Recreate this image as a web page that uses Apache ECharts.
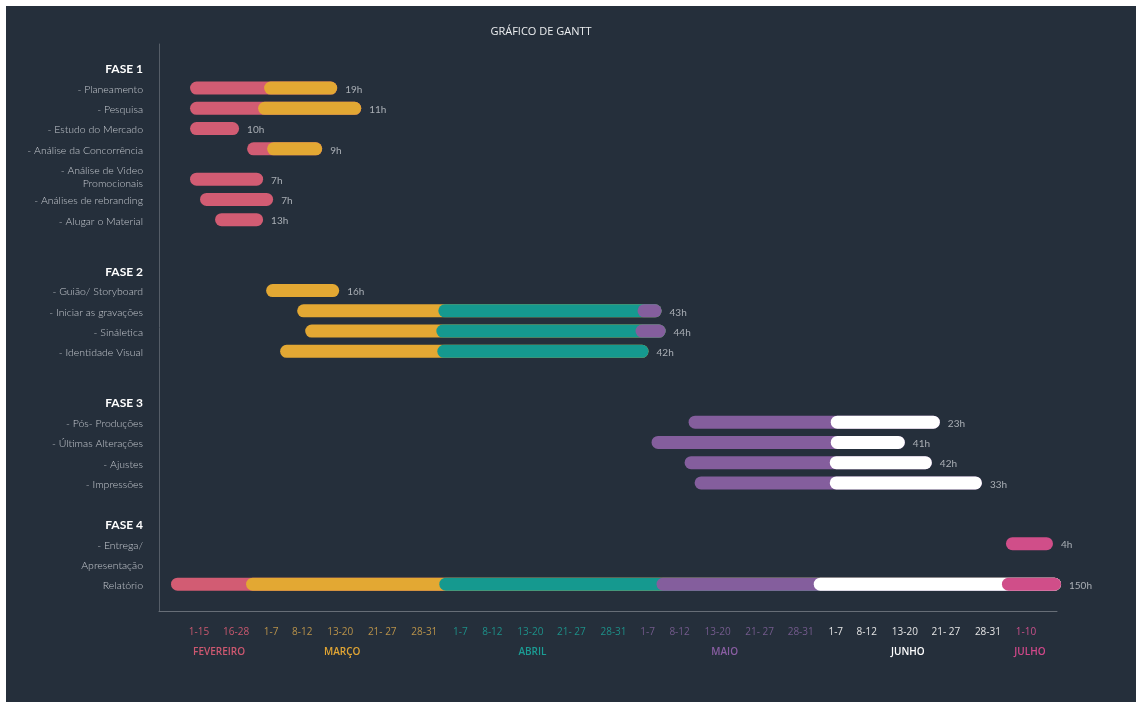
<!DOCTYPE html>
<html>
<head>
<meta charset="utf-8">
<script src="https://cdn.jsdelivr.net/npm/echarts@6/dist/echarts.min.js"></script>
<style>
  html, body { margin: 0; padding: 0; background: #ffffff; width: 1136px; height: 702px; overflow: hidden; }
  #chart { position: absolute; left: 6px; top: 6px; width: 1130px; height: 696px; background: #252f3b; }
</style>
</head>
<body>
<div id="chart"></div>
<script>
// ---- Y axis rows (category slots; blank slots give the spacing between rows) ----
const categories = [
  '', '', 'FASE 1', '', '- Planeamento', '', '- Pesquisa', '', '- Estudo do Mercado', '',
  '- Análise da Concorrência', '', '', '- Análise de Video\nPromocionais', '', '- Análises de rebranding', '',
  '- Alugar o Material', '', '', '', '', 'FASE 2', '', '- Guião/ Storyboard', '', '- Iniciar as gravações', '',
  '- Sináletica', '', '- Identidade Visual', '', '', '', '', 'FASE 3', '', '- Pós- Produções', '',
  '- Últimas Alterações', '', '- Ajustes', '', '- Impressões', '', '', '', 'FASE 4', '', '- Entrega/', '',
  'Apresentação', '', 'Relatório', '', ''
];

// ---- Tasks ----
const tasks = [
  '- Planeamento', '- Pesquisa', '- Estudo do Mercado', '- Análise da Concorrência',
  '- Análise de Video\nPromocionais', '- Análises de rebranding', '- Alugar o Material',
  '- Guião/ Storyboard', '- Iniciar as gravações', '- Sináletica', '- Identidade Visual',
  '- Pós- Produções', '- Últimas Alterações', '- Ajustes', '- Impressões',
  '- Entrega/', 'Relatório'
];
// start of each coloured segment on the timeline
const segStarts = [
  [31, 105], [31, 99], [31], [88, 108], [31], [41], [56],
  [107], [138, 279, 478], [146, 277, 476], [121, 278],
  [529, 671], [492, 671], [525, 670], [535, 670],
  [846], [12, 87, 280, 497, 654, 842]
];
// month of each segment (0 Fev, 1 Mar, 2 Abr, 3 Mai, 4 Jun, 5 Jul)
const segMonths = [
  [0, 1], [0, 1], [0], [0, 1], [0], [0], [0],
  [1], [1, 2, 3], [1, 2, 3], [1, 2],
  [3, 4], [3, 4], [3, 4], [3, 4],
  [5], [0, 1, 2, 3, 4, 5]
];
const taskEnds = [178, 202, 80, 163, 104, 114, 104, 180, 502, 506, 489, 780, 745, 772, 822, 893, 901];
const hoursLabels = ['19h', '11h', '10h', '9h', '7h', '7h', '13h', '16h', '43h', '44h', '42h', '23h', '41h', '42h', '33h', '4h', '150h'];

// ---- X axis (timeline) ----
const tickLabels = ['1-15', '16-28', '1-7', '8-12', '13-20', '21- 27', '28-31', '1-7', '8-12', '13-20', '21- 27', '28-31',
  '1-7', '8-12', '13-20', '21- 27', '28-31', '1-7', '8-12', '13-20', '21- 27', '28-31', '1-10'];
const tickMonth = [0, 0, 1, 1, 1, 1, 1, 2, 2, 2, 2, 2, 3, 3, 3, 3, 3, 4, 4, 4, 4, 4, 5];
const tickPos = [40, 77, 112, 143, 181, 223, 265, 301, 333, 371, 412, 454, 488, 520, 558, 600, 641, 676, 707, 745, 786, 828, 866];
const monthNames = ['FEVEREIRO', 'MARÇO', 'ABRIL', 'MAIO', 'JUNHO', 'JULHO'];
const monthPos = [60, 183, 373, 565, 748, 870];

// ---- Styles ----
const segColors = ['#d25c73', '#e3a833', '#15998f', '#845e9d', '#ffffff', '#d04e89'];
const tickColors = ['#c9586f', '#b8924a', '#1d8f88', '#735a8c', '#e4e4e4', '#c8508a'];
const monthColors = ['#cd5870', '#e2a634', '#1b9c94', '#8a5ea3', '#ffffff', '#d2488a'];
const AXIS_MAX = 897;

const segData = [];
tasks.forEach((t, i) => {
  segStarts[i].forEach((s, j) => {
    segData.push([s, taskEnds[i], t, segMonths[i][j]]);
  });
});
const endData = tasks.map((t, i) => [taskEnds[i], t, hoursLabels[i]]);

const tickRich = {};
tickColors.forEach((c, i) => { tickRich['m' + i] = { color: c, fontSize: 10, fontFamily: 'Open Sans' }; });
const monthRich = {};
monthColors.forEach((c, i) => { monthRich['m' + i] = { color: c, fontSize: 10, fontFamily: 'Open Sans', fontWeight: 600 }; });

const chart = echarts.init(document.getElementById('chart'), null, { renderer: 'canvas' });
chart.setOption({
  animation: false,
  backgroundColor: '#252f3b',
  graphic: [{
    type: 'text', x: 535, y: 26,
    style: { text: 'GRÁFICO DE GANTT', fill: '#eceef0', font: '500 11px "Open Sans"', align: 'center', verticalAlign: 'middle' }
  }],
  grid: { left: 153, top: 38, width: 898, height: 567 },
  xAxis: [{
    type: 'value', min: 0, max: AXIS_MAX, position: 'bottom',
    axisLine: { show: true, lineStyle: { color: '#676e77', width: 1 } },
    axisTick: { show: false }, splitLine: { show: false },
    axisLabel: {
      customValues: tickPos, margin: 16,
      formatter: (v) => { const i = tickPos.indexOf(v); return i < 0 ? '' : '{m' + tickMonth[i] + '|' + tickLabels[i] + '}'; },
      rich: tickRich
    }
  }, {
    type: 'value', min: 0, max: AXIS_MAX, position: 'bottom', offset: 20,
    axisLine: { show: false }, axisTick: { show: false }, splitLine: { show: false },
    axisLabel: {
      customValues: monthPos, margin: 16,
      formatter: (v) => { const i = monthPos.indexOf(v); return i < 0 ? '' : '{m' + i + '|' + monthNames[i] + '}'; },
      rich: monthRich
    }
  }],
  yAxis: {
    type: 'category', data: categories, inverse: true,
    axisLine: { show: true, lineStyle: { color: '#555d67', width: 1 } },
    axisTick: { show: false }, splitLine: { show: false },
    axisLabel: {
      interval: 0, margin: 16,
      formatter: (v) => {
        if (!v) return '';
        if (v.indexOf('FASE') === 0) return '{h|' + v + '}';
        const lines = v.split('\n');
        if (lines.length > 1) return lines.map(l => '{t|' + l + '}').join('\n') + '\n{e| }';
        return '{t|' + v + '}';
      },
      rich: {
        h: { color: '#ffffff', fontSize: 12, fontFamily: 'Lato', fontWeight: 'bold', align: 'right' },
        t: { color: '#c5c9cf', fontSize: 10.5, fontFamily: 'Lato', fontWeight: 300, lineHeight: 13, align: 'right' },
        e: { fontSize: 1, lineHeight: 7 }
      }
    }
  },
  series: [{
    type: 'custom',
    xAxisIndex: 0,
    clip: false,
    data: segData,
    encode: { x: [0, 1], y: 2 },
    renderItem: (params, api) => {
      const a = api.coord([api.value(0), api.value(2)]);
      const b = api.coord([api.value(1), api.value(2)]);
      const h = 13;
      return {
        type: 'rect',
        shape: { x: a[0], y: a[1] - h / 2 - 1.5, width: b[0] - a[0], height: h, r: h / 2 },
        style: { fill: segColors[api.value(3)] }
      };
    }
  }, {
    type: 'scatter',
    xAxisIndex: 0,
    data: endData,
    symbolSize: 0,
    clip: false,
    encode: { x: 0, y: 1 },
    label: {
      show: true, position: 'right', distance: 8,
      formatter: (p) => p.value[2],
      color: '#c9cdd2', fontSize: 10, fontFamily: 'Lato'
    }
  }]
});
</script>
</body>
</html>
